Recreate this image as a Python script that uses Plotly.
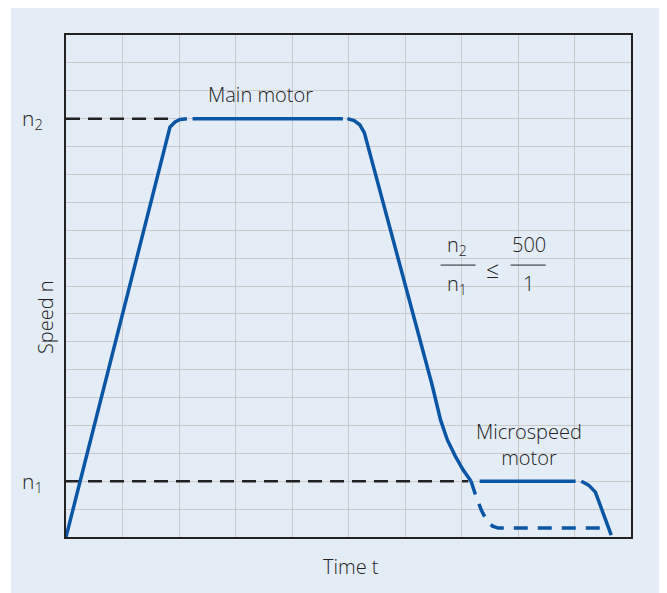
import plotly.graph_objects as go

# speed profile (time in grid units, speed in grid units)
rise_t = [0, 1.84, 1.93, 2.02, 2.14]
rise_n = [0, 14.7, 14.88, 14.97, 15]
top_t = [2.24, 4.9]
top_n = [15, 15]
fall_t = [4.98, 5.1, 5.2, 5.28, 6.48, 6.63, 6.75, 6.89, 7.03, 7.17]
fall_n = [15, 14.93, 14.78, 14.5, 5.45, 4.19, 3.48, 2.9, 2.4, 2.0]
micro_t = [7.32, 9.02]
micro_n = [2, 2]
stop_t = [9.12, 9.25, 9.37, 9.65]
stop_n = [2, 1.86, 1.61, 0.07]
alt_t = [7.17, 7.26, 7.35, 7.44, 7.55, 7.65, 9.51]
alt_n = [2.0, 1.43, 0.97, 0.61, 0.39, 0.32, 0.32]

n2_t = [0, 1.9]
n2_n = [15, 15]
n1_t = [0, 7.12]
n1_n = [2, 2]

y_ticks = list(range(0, 19))
y_labels = ["" for _ in y_ticks]
y_labels[2] = "n<sub>1</sub>"
y_labels[15] = "n<sub>2</sub>"

blue = "#0a56a5"
dark = "#222222"
bg = "#e4ecf6"
txt = "#222222"
font = "Open Sans"

solid_t = rise_t + [None] + top_t + [None] + fall_t + [None] + micro_t + [None] + stop_t
solid_n = rise_n + [None] + top_n + [None] + fall_n + [None] + micro_n + [None] + stop_n

ref = go.Scatter(x=n2_t + [None] + n1_t, y=n2_n + [None] + n1_n, mode="lines",
                 line=dict(color=dark, width=2.5, dash="14px,8px"), hoverinfo="skip")
alt = go.Scatter(x=alt_t, y=alt_n, mode="lines",
                 line=dict(color=blue, width=3.5, dash="14px,10px"), hoverinfo="skip")
main = go.Scatter(x=solid_t, y=solid_n, mode="lines",
                  line=dict(color=blue, width=3.5), hoverinfo="skip")

layout = go.Layout(
    width=667, height=593,
    margin=dict(l=58, r=44, t=27, b=64),
    paper_bgcolor="white",
    plot_bgcolor=bg,
    showlegend=False,
    font=dict(family=font, color=txt, size=20, weight=300),
    xaxis=dict(range=[0, 10], dtick=1, showticklabels=False, ticks="", automargin=False,
               showgrid=True, gridcolor="#c9c9c9", gridwidth=1, zeroline=False,
               showline=True, linecolor=dark, linewidth=2, mirror=True),
    yaxis=dict(range=[0, 18], tickmode="array", tickvals=y_ticks, ticktext=y_labels,
               ticks="outside", ticklen=17, tickcolor="rgba(0,0,0,0)", automargin=False,
               tickfont=dict(size=21, color=txt, family=font, weight=300),
               showgrid=True, gridcolor="#c9c9c9", gridwidth=1, zeroline=False,
               showline=True, linecolor=dark, linewidth=2, mirror=True),
    shapes=[
        dict(type="rect", xref="paper", yref="paper", x0=-55 / 565, x1=1.2,
             y0=-0.2, y1=1.2, fillcolor=bg, line=dict(width=0), layer="below"),
        dict(type="line", xref="x", yref="y", x0=6.63, x1=7.25, y0=9.75, y1=9.75,
             line=dict(color=txt, width=1)),
        dict(type="line", xref="x", yref="y", x0=7.87, x1=8.49, y0=9.75, y1=9.75,
             line=dict(color=txt, width=1)),
    ],
    annotations=[
        dict(x=3.44, y=15.85, xref="x", yref="y", text="Main motor", showarrow=False),
        dict(x=8.2, y=3.3, xref="x", yref="y", text="Microspeed<br>motor", showarrow=False),
        dict(x=6.92, y=10.45, xref="x", yref="y", text="n<sub>2</sub>", showarrow=False),
        dict(x=6.92, y=9.05, xref="x", yref="y", text="n<sub>1</sub>", showarrow=False),
        dict(x=7.55, y=9.6, xref="x", yref="y", text="≤", showarrow=False,
             font=dict(size=23)),
        dict(x=8.19, y=10.5, xref="x", yref="y", text="500", showarrow=False),
        dict(x=8.19, y=9.1, xref="x", yref="y", text="1", showarrow=False),
        dict(x=-21 / 565, y=0.438, xref="paper", yref="paper", text="Speed n",
             textangle=-90, showarrow=False, xanchor="center", yanchor="middle"),
        dict(x=0.505, y=-29 / 502, xref="paper", yref="paper", text="Time t",
             showarrow=False, xanchor="center", yanchor="middle"),
    ],
)

fig = go.Figure([ref, alt, main], layout=layout)
fig.write_html("out.html")
